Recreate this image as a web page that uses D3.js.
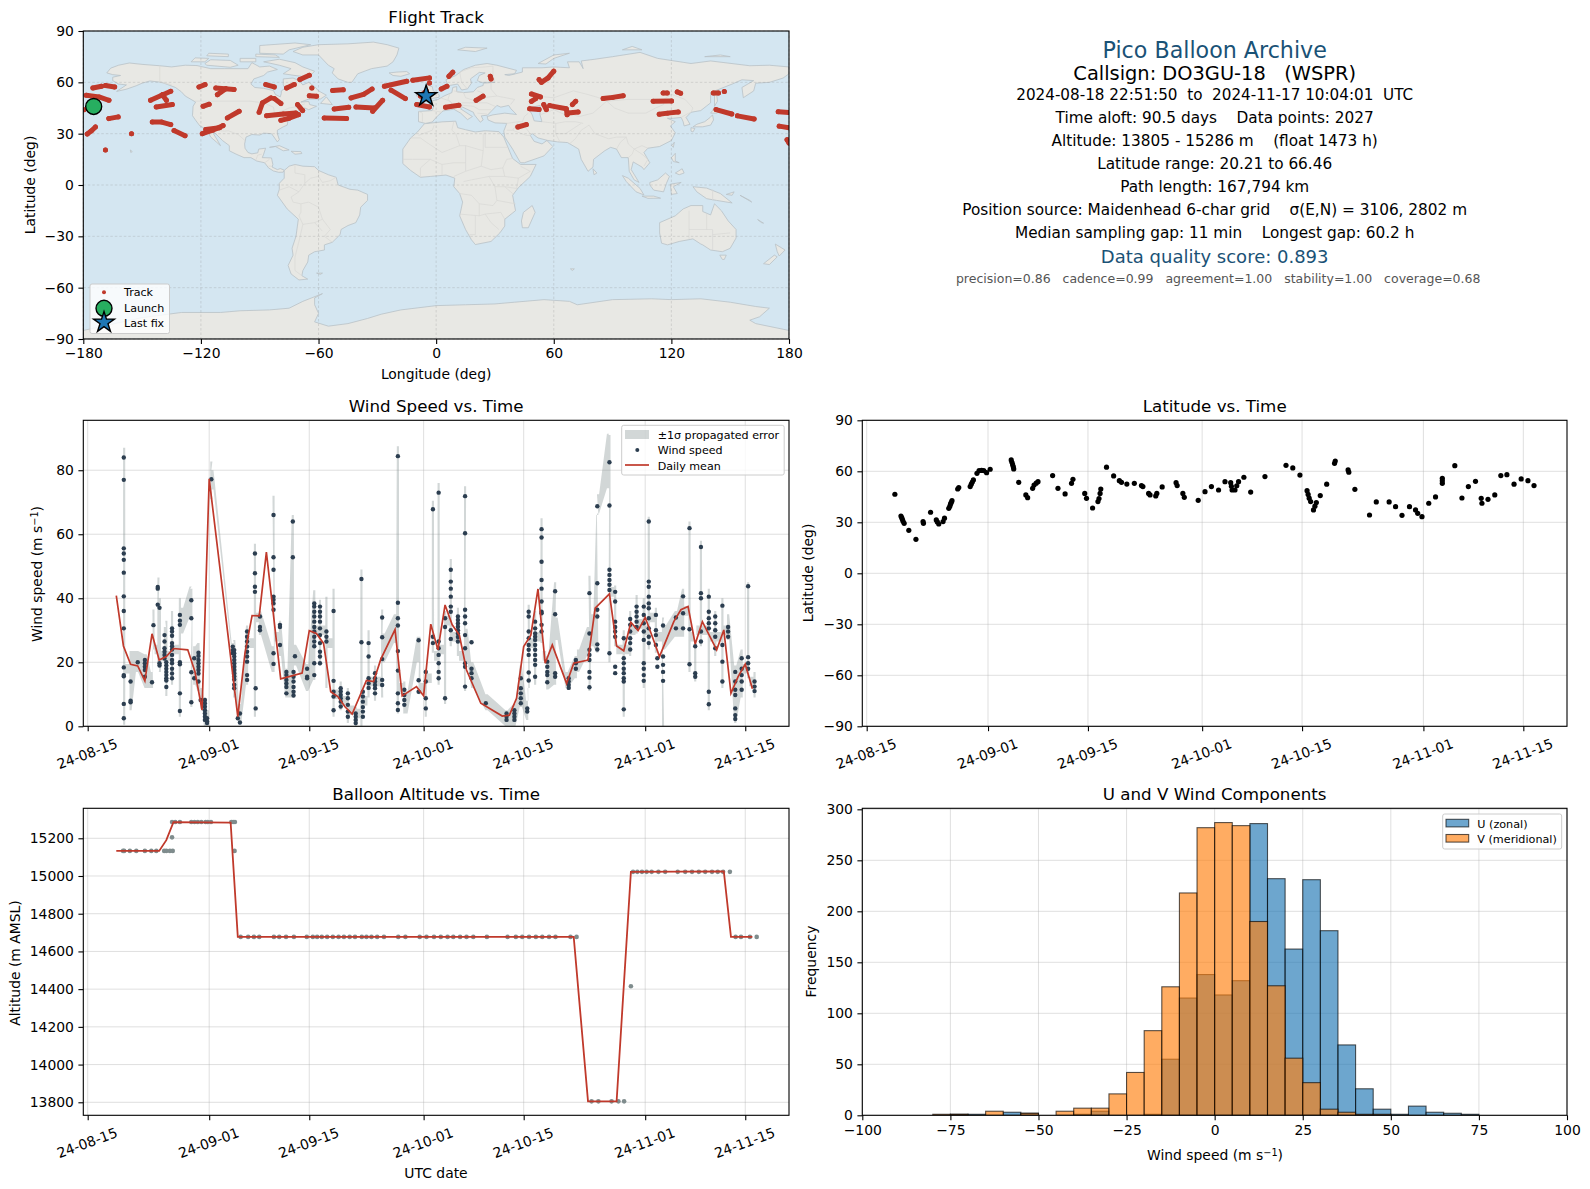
<!DOCTYPE html>
<html>
<head>
<meta charset="utf-8">
<title>Pico Balloon Archive</title>
<script src="https://cdn.jsdelivr.net/npm/d3@7"></script>
<style>
  body { margin: 0; background: #fff; }
  svg { display: block; }
  text { font-family: "DejaVu Sans", sans-serif; fill: #000; white-space: pre; }
</style>
</head>
<body>
<script>
// ---------- chart values ----------
// times are days after 2024-08-15

var dateTicks = ["2024-08-15", "2024-09-01", "2024-09-15", "2024-10-01", "2024-10-15", "2024-11-01", "2024-11-15"];

var lonTicks = [-180, -120, -60, 0, 60, 120, 180];
var latTicks = [-90, -60, -30, 0, 30, 60, 90];
var windTicks = [0, 20, 40, 60, 80];
var altTicks = [13800, 14000, 14200, 14400, 14600, 14800, 15000, 15200];
var histXTicks = [-100, -75, -50, -25, 0, 25, 50, 75, 100];
var histYTicks = [0, 50, 100, 150, 200, 250, 300];

var infoLines = [
  "Time aloft: 90.5 days    Data points: 2027",
  "Altitude: 13805 - 15286 m    (float 1473 h)",
  "Latitude range: 20.21 to 66.46",
  "Path length: 167,794 km",
  "Position source: Maidenhead 6-char grid    \u03c3(E,N) = 3106, 2802 m",
  "Median sampling gap: 11 min    Longest gap: 60.2 h"
];

// flight track, strokes of lon/lat fixes
var trackSegments = [
  [[-178.5,52.4],[-172,51.5],[-166.9,49.5]], [[-175.1,56.7],[-170.7,57.7]], [[-168.7,58.1],[-164,57.3]], [[-179.7,44]],
  [[-167,38.8],[-162.2,39.8]], [[-178,29.8],[-176,31.5],[-173.8,33.9]], [[-155.4,30]], [[-168.7,20.5]],
  [[-145.7,49.5],[-140,52.5],[-135.4,54.8]], [[-139.7,52.8],[-137.6,49.5]], [[-142.8,45.6],[-134.6,47]],
  [[-144.8,36.8],[-140,36.8],[-135.4,35.3]], [[-133.7,31.8],[-128.1,28.8]], [[-119.3,30],[-114,32],[-108.7,34.7]], [[-117.5,32.5],[-110.5,33.5]],
  [[-121,57.3],[-117.9,58.7]], [[-112.4,56.7],[-103.1,55.8]], [[-111.6,52.8],[-107.3,56.3]], [[-118.9,46],[-115.8,47.2]],
  [[-106.5,39.2],[-100.5,43.1]], [[-90.3,42.5],[-88.6,48],[-84.3,50.9]], [[-82.6,50.5],[-79.2,47.6]], [[-86.9,58.7],[-82.6,57.3]],
  [[-86.5,40.5],[-78,41.5],[-71.6,42.1]], [[-79.2,37.8],[-75,39],[-70.2,41.1]], [[-76.3,56.7],[-72.4,58.7]], [[-69.5,61.6],[-64.7,64.1]],
  [[-63.4,56.7]], [[-64.7,52.2],[-61,51.9]], [[-70.7,47],[-68.1,43.5]], [[-57.1,39.2],[-45.7,38.8]], [[-52,44.4],[-44.6,45.4]],
  [[-52.8,55.2],[-47.4,55.6]], [[-43.4,50.9],[-37,53],[-32.7,56.1]], [[-40.9,45.6],[-31.5,45]], [[-32.4,43.1],[-27.3,49.5]],
  [[-26.4,57.7],[-15,60.6]], [[-23,55.4],[-15.7,50.5]], [[-11.9,61.2],[-3.4,62.6]], [[-9.9,47],[-3.4,45.6]], [[-8,52],[-5,55]], [[-3.4,59.6]],
  [[2.6,56.1],[5.5,57.7]], [[6.5,63.5],[8.5,65.9]], [[27.6,63.5],[28,62]], [[4.8,45.4],[11.6,46.6]], [[20.4,49.5],[23.9,51.9]],
  [[41.7,33.9],[46,35.3]], [[47.7,44.6],[52.5,44.1]], [[54.9,47],[56.2,44.1]], [[48.6,53.2],[53.2,51.5]], [[48.6,48.9],[50.8,50.5]],
  [[52.5,61.6],[53.7,60],[57.1,62.6],[60,66.5]], [[57.9,46.4],[66.4,44.6],[66.8,41.1]], [[67.3,42.1],[72.4,42.7]], [[69.5,47],[71.2,48.9]],
  [[85.2,50.5],[90,51.2],[95.4,52.2]], [[110.7,48.9],[120.1,49.1]], [[115.8,53.8],[117.9,53.8]], [[123,54.4],[124.7,53.6]],
  [[113.8,41.3],[118,42],[123.5,42.7]], [[141.4,53.8],[144,53.8]], [[147,54.6]], [[142.8,44.1],[150.8,41.5]], [[153.7,40.4],[162.2,38.6]],
  [[174.5,42.8],[180,42.3]], [[175,34.4],[180,33.4]], [[179,26.5],[180,24.5]]
];
var launchFix = [-174.7, 45.9];
var lastFix = [-5.1, 52];

// land outlines, lon/lat
var landPolygons = [
  // North America
  [[-168,65.5],[-166,68.3],[-162,70],[-156.5,71.3],[-150,70.5],[-141,69.7],[-135,69],[-128,70],[-122,69.8],[-115,68],[-108,68],[-100,68],[-96,68],[-94,71.5],[-90,69],[-85,69.5],[-81,67.5],[-86,66],[-88,64],[-93,62],[-94.5,59],[-92.5,57],[-88,56.5],[-83,55.2],[-82,52.9],[-79.5,51.5],[-79,53.5],[-79,55],[-77,56.5],[-78,58.5],[-78,62],[-73,62.5],[-70,61],[-68,58.5],[-65,60],[-62,57.5],[-60,55],[-56,52.5],[-59,50.3],[-65,50.2],[-69,48.5],[-65,48.8],[-64.5,47],[-61,46],[-65,44],[-67,45],[-70,43.7],[-70.5,42],[-74,40.5],[-75.5,38],[-76,35],[-78,34],[-81,32],[-81,30],[-80,26.5],[-81,25.2],[-82.7,28],[-84,30],[-88,30.3],[-90,29.2],[-94,29.5],[-97,28],[-97.7,24],[-97.5,21.5],[-96,19],[-94,18.2],[-91,18.8],[-90.5,21],[-87,21.5],[-88,18],[-88.7,16],[-84,15.8],[-83.3,12],[-83.7,10.5],[-81,9],[-79.5,9.6],[-77.5,8.7],[-78,7.5],[-80.3,7.4],[-83,8.2],[-85.5,10],[-87.5,13],[-91.5,14],[-94.5,16],[-98,16],[-102,18],[-105.5,20],[-105.5,23],[-109,26],[-112.5,30],[-114.5,31.5],[-112,27],[-110,23],[-112,25],[-115,28],[-117,32.5],[-120.5,34.5],[-122.5,37.5],[-124.3,40.5],[-124,46],[-122.7,48.5],[-125,50],[-128,52],[-130,54.5],[-133,57],[-137,58.7],[-140,60],[-146,60.8],[-150,59.5],[-153,58],[-158,56],[-163,54.7],[-158,58.5],[-162,59],[-165,61],[-165,63],[-161,64],[-165,64.5]],
  // Greenland and the arctic islands
  [[-73,78],[-68,76],[-60,76],[-55,70],[-52,68],[-53,65.5],[-50,62],[-45,60],[-43,60],[-40,65],[-33,68],[-25,69.5],[-22,72],[-20,76],[-19,80],[-25,82],[-32,83.5],[-45,82.5],[-60,82],[-68,80.5]],
  [[-80,73.5],[-72,71.5],[-68,69],[-62,66.5],[-65,63],[-72,64],[-78,65],[-74,68],[-80,70],[-88,72]],
  [[-117,70],[-105,68.8],[-101,70],[-105,72.8],[-115,73.2],[-118,71]],
  [[-125,72],[-118,72],[-116,74],[-123,74.3]],
  [[-90,77],[-78,76.5],[-75,79],[-64,82],[-72,83],[-90,81.5]],
  [[-92,75],[-80,74.6],[-82,76],[-92,76.5]],
  [[-117,75.5],[-106,75],[-106,76.5],[-116,77]],
  [[-100,72],[-92,72],[-92,74],[-100,74]],
  [[-59,47.7],[-56,51.5],[-53,47]],
  [[-85,22],[-80,23],[-75,20.5],[-78,20],[-82,22.5]],
  [[-74,19.7],[-69,19.5],[-68.5,18.4],[-72,18]],
  [[-24,65.5],[-20,66],[-15,66.3],[-13.5,65],[-18,63.5],[-22,64]],
  [[-156,20.5],[-155,19.5],[-155.8,19]],
  [[-61,-51.5],[-58,-51.5],[-59,-52.2]],
  // South America
  [[-77.5,8.5],[-75,11],[-72,12],[-68,11],[-62,10.7],[-60,8.5],[-55,6],[-51,4.5],[-50,0],[-44,-2.5],[-40,-3],[-35,-5.5],[-35,-9],[-38.5,-13],[-39,-17.5],[-41,-22],[-45,-23.7],[-48.5,-26],[-49,-29],[-53,-33.5],[-57,-35],[-57,-38],[-62,-39],[-65,-41],[-65.5,-45],[-68,-50],[-68.5,-53],[-65.5,-55],[-70,-55.5],[-74,-52],[-75.5,-47],[-73,-41],[-73.5,-37],[-71.5,-30],[-70.3,-20],[-76,-14],[-81,-6],[-80,-2.5],[-80,1],[-77.5,4]],
  // Africa
  [[-6,35.8],[3,36.9],[10,37.3],[11,33.5],[15,32.3],[20,31],[25,31.7],[32,31.2],[34.5,28],[37,21],[39,15.5],[43,12],[51,12],[48,5],[42,-1.5],[39,-6],[40.5,-15],[35,-20],[35,-24],[32.5,-28],[28,-33],[20,-34.8],[18,-32],[15,-26],[12,-18],[13.5,-10],[12,-5],[9,-1],[9.5,4],[5,5.8],[-3,5],[-8,4.5],[-13,8.5],[-17,12.5],[-17,21],[-13,27.5],[-9.5,31]],
  [[49,-12],[50.5,-16],[47,-25],[44,-25],[43.5,-21],[44.5,-16]],
  // Eurasia
  [[-9,37],[-9,43],[-2,43.5],[-1.2,46],[-4.5,48.5],[1,50],[4,52],[8,54],[8.5,57],[10.5,57.5],[10.5,54.5],[14,54],[19,54.5],[21,57],[24,58.2],[24,59.5],[30,60],[23,60],[21,61],[22,64],[25,65.5],[22,65.8],[17.5,62],[18,59.5],[16,56.2],[13,55.5],[11,59],[6,58],[5,61.5],[10,64],[14,67.5],[20,70],[26,71],[31,70],[41,67],[40,65],[35,64.5],[37,64],[44,66],[44,68.5],[54,68.5],[60,69],[68,68.5],[67,72],[73,72],[75,68],[74,72.5],[81,73.5],[90,75],[104,77.5],[113,74],[130,71],[140,72.5],[160,69.7],[170,70],[180,69],[180,65],[177,62.5],[170,60],[163,59.5],[162,55],[156.7,51],[156,57],[162,61],[156,61.5],[151,59],[140,54],[140,48],[135,43.5],[130,42.5],[127.5,39.5],[129.5,35.5],[126.5,34.5],[126,37],[125,39.5],[121,39],[118,39],[122,37],[119.5,34.5],[122,30.5],[120,26],[114,22.5],[108,21.5],[106,19],[109,13],[106,9],[105,10.5],[100.5,13.5],[99.5,9],[103.5,1.5],[101,3],[98.5,8],[98,16],[94.5,16],[92,21],[89,22],[86,20],[80.3,15],[80,10.5],[77.5,8],[74,15],[72.7,21],[67,24.8],[62,25.2],[57,26],[52,27.5],[49,30],[48,29],[50,25.5],[54,24],[56.5,26],[59.5,22.5],[55,17],[45,13],[43,13],[39,21],[35,28],[34.5,31.5],[36,36],[30,36.3],[26.5,38],[26,40],[29,41],[35,42],[41,41.2],[38,44.7],[37,46.5],[33,45.5],[31,46.5],[28,43],[26.2,40.8],[23,40.4],[24,38],[22.5,36.7],[19.5,41],[19,42.5],[13.5,45.5],[12.5,44.5],[18.5,40],[16,38.2],[12.5,42],[9,44.3],[3.5,43.3],[0,39.5],[-2,36.8],[-5.5,36]],
  [[-5.5,50],[1.5,51.3],[1.5,52.8],[-1.5,55],[-2,57.5],[-5,58.5],[-5.5,56],[-3,54],[-5,52],[-3,51.4]],
  [[-10,52],[-6,52],[-5.7,54.7],[-8,55.2],[-10,54]],
  [[52,71],[56,70.7],[60,74],[68,77],[60,76]],
  [[11,79],[20,78],[26,80],[15,80.5]],
  [[95,79],[105,79],[100,81]],
  [[137,75],[150,75],[145,76]],
  // East Asia and the islands
  [[131,34],[136,34],[140,35],[141.5,38],[141,41],[139.8,39.5],[137,37],[133,35.5]],
  [[130,33.5],[132,33],[131,31],[130,31.5]],
  [[140,42],[143,42],[145.5,43.5],[142,45.5],[141,43.5]],
  [[142,46],[143.5,49],[143,54],[142,52]],
  [[120.2,23],[121.5,25],[121,22]],
  [[120,16],[122,18.5],[122,14],[124,13],[121,13.7]],
  [[122,7],[125.5,9.5],[126.5,7],[124,6]],
  [[109,1.5],[113,3],[117,7],[119,5],[117.5,1],[116,-4],[111,-3],[109,0]],
  [[95,5.5],[98,4],[104,-2],[106,-5.8],[102,-4],[97,2]],
  [[105,-6.5],[111,-6.5],[114.5,-7.7],[108,-7.8]],
  [[119.5,0.5],[125,1.5],[121,-1],[123,-5],[120,-5.5]],
  [[131,-1],[138,-1.8],[145,-5],[151,-10.5],[143,-9],[138,-8],[133,-4]],
  [[148,-5.5],[152,-4],[151,-6]],
  [[155,-6],[160,-9],[161,-10]],
  [[164,-20.2],[167,-22.3],[166,-22]],
  [[80,9.5],[82,7],[80.5,6]],
  // Australia, New Zealand
  [[114,-22],[122,-18],[126,-14],[130,-12],[136,-12],[136,-15.5],[140,-17.5],[142,-11],[145.5,-15],[149,-21],[153,-26],[153,-31],[150,-37],[146,-39],[140,-38],[136,-35],[135,-34.5],[131,-31.5],[124,-33],[118,-35],[115,-34],[114,-28]],
  [[144.7,-41],[148,-41],[147,-43.5],[146,-43.5]],
  [[173,-34.5],[178,-38],[175,-41.5],[174,-39]],
  [[172.5,-41],[174,-42],[170,-46.5],[167,-46]],
  [[68.5,-49],[70.5,-49],[69.5,-50]],
  // Antarctica
  [[-180,-85],[-160,-80],[-150,-77.5],[-130,-74.5],[-110,-74.5],[-100,-73.5],[-85,-73],[-75,-72],[-68,-68],[-58,-63.5],[-62,-66],[-62,-70],[-60,-75],[-62,-80],[-55,-82.5],[-45,-81],[-35,-78],[-28,-75.5],[-18,-73],[0,-70.5],[15,-70],[30,-69.5],[40,-68.5],[55,-67],[68,-68],[72,-70],[78,-69],[90,-67],[110,-66.5],[120,-67],[135,-66.5],[150,-68.5],[163,-71],[170,-72],[165,-77],[160,-79],[163,-81],[180,-85],[180,-90],[-180,-90]]
];
var waterPolygons = [
  [[47,45],[53,46.5],[53,41],[54,37],[50,37.5],[49,41]]
];
var borderLines = [
  [[-123,49],[-95,49],[-88,48],[-83,45.5],[-82.5,42],[-79,43],[-75,45],[-70,46],[-67,47.5]],
  [[-141,69.7],[-141,60],[-135,58.7]], [[-117,32.5],[-108,31.5],[-106,31.7],[-101,29.5],[-97.5,26]],
  [[-92,14.5],[-91,17.5],[-89,18]], [[-87.5,13],[-85,15]], [[-85.5,11],[-84,11]],
  [[-72,12],[-72,7],[-67,6],[-67,1],[-70,-4],[-74,-7],[-73,-10],[-69,-11],[-69,-16],[-70,-18]],
  [[-60,8.5],[-60,5],[-64,4],[-67,1]], [[-51,4.5],[-54,2.5],[-58,1.5],[-60,5]], [[-80,-3],[-75,-1],[-70,-4]],
  [[-69,-11],[-65,-10],[-60,-13],[-58,-20],[-54,-26],[-57,-30],[-53,-33.5]], [[-70,-18],[-68,-23],[-70,-33],[-72,-42],[-72,-50],[-68.5,-53]],
  [[-68,-23],[-62,-22],[-58,-20]], [[-58,-27],[-62,-22]],
  [[-9,43],[-7,42],[-7,37]], [[-2,43.5],[3,42.5]], [[2,51],[6,49.5],[8,48],[7,44]], [[7,53.5],[6,50],[8,48]], [[9,55],[14,54]], [[14,54],[15,51],[19,49.5],[22.5,49],[24,51],[23.5,54],[21,55]],
  [[13,48],[17,48],[22,48],[26,48],[30,46]], [[12,47],[14,46.5],[19,46],[22,44],[28,44]], [[21,42],[26,41.5]], [[28,60],[28,56],[31,52],[40,50],[38,47]], [[24,51],[31,52]],
  [[12,66],[18,68.5],[25,69],[29,69.5]], [[30,60],[29,64],[29,69.5]], [[16,56],[13,60],[12,66]],
  [[47,42],[45,40],[44,37],[46,33],[48,30]], [[36,36],[42,37],[44,37]], [[39,32],[46,29],[48,29]], [[36,32],[39,32],[42,37]], [[47,45],[50,52],[60,51],[70,55],[77,53],[83,51],[87,49]],
  [[53,41],[60,44],[66,41],[70,41],[73,40],[80,42],[87,49]], [[54,37],[61,36],[61,30],[63,25.5]], [[61,36],[66,37],[71,37],[75,36]], [[61,30],[66,30],[70,33],[74,36]],
  [[68,24],[71,27],[74,32],[78,35],[81,30],[88,27],[92,28],[97,28]], [[97,28],[98,24],[101,21],[105,23],[108,21.5]], [[92,21],[94,25],[97,28]], [[101,21],[100,18],[98,16]], [[101,21],[105,18],[108,15],[106,11]], [[87,49],[98,50],[107,50],[116,50],[120,53],[127,50],[131,45],[130,42.5]], [[98,42],[107,42],[112,45],[116,47],[116,50]], [[87,49],[91,45],[98,42]],
  [[125,39.5],[128,41.5],[130,42.5]], [[-9,29],[-2,32],[-1,35]], [[-13,27.5],[-8,27.5],[-5,25],[3,19],[12,23],[15,23],[24,20],[24,30]], [[25,31.7],[25,22],[37,22]], [[9,37],[8,32],[10,30],[12,23]],
  [[15,23],[15,13],[9,13],[3,12],[-3,15],[-12,15],[-17,15]], [[24,20],[23,11],[28,9],[34,10],[36,15],[39,15.5]], [[34,10],[35,5],[42,4],[48,8],[43,11]], [[9,5],[15,8],[15,13]], [[15,8],[23,11]], [[-8,4.5],[-8,10],[-3,15]], [[3,6],[3,12]],
  [[14,2],[18,3],[27,5],[35,5]], [[12,-5],[18,-6],[22,-11],[29,-12],[31,-9],[30,-1],[27,5]], [[35,-1],[41,-2],[42,4]], [[30,-1],[35,-1],[39,-5]], [[31,-9],[40.5,-11]], [[12,-17],[22,-18],[25,-17],[33,-16],[35,-20]], [[20,-18],[20,-29],[17,-29]], [[25,-17],[28,-22],[32,-26]], [[22,-11],[22,-18]],
  [[141,-2.5],[141,-9]], [[141,-38],[141,-26],[129,-26]], [[129,-15],[129,-31.5]], [[138,-17],[138,-26]], [[150,-28],[141,-29]]
];

// wind speed, one row per sounding day
var windDays = [5.05, 6, 7, 8, 9, 9.2, 9.8, 10.05, 10.75, 11, 11.8, 12.9, 14.5, 14.9, 15.5, 15.8, 16.4, 16.7, 17.3, 20.3, 20.5, 21, 21.3, 22.3, 23.4, 23.5, 24.1, 26, 26.9, 27.8, 28.7, 28.8, 29, 30.7, 31.7, 32.5, 33.4, 34.4, 35.4, 36.4, 37.5, 38.3, 38.5, 39.3, 40.2, 41.2, 43.4, 44.3, 46.3, 47.3,
  48.3, 49.1, 50, 50.8, 51.8, 52.8, 53.7, 55.7, 58.6, 59.7, 60.6, 61.5, 61.7, 62.6, 63.5, 64.3, 65.4, 67.3, 68.3, 70.2, 71.3, 73, 73.8, 75, 75.9, 76.8, 77.8, 78.5, 79.5, 79.7, 80.5, 82.3, 83.3, 84.2, 85, 85.8, 86.9, 87.8, 88.8, 89.6, 90.6, 91.5, 92.4, 93.3];
var windSpeeds = [
  [84,77,55.6,54,52,48,40.6,36,30.6,18.4,16,15.6,7,2.5], [14,8,7.5], [20], [20.7,19.7,18.6,17.6,15.5], [13.75], [31.6],
  [43.5,43,38], [37,19.7,19], [28.5,26.5,24.4,23.3,22.3,21.2], [20,19,18,17,16,15,14.3,12.3], [30.6,29.6,28.3,26,25,24,22.3,20.7,19.7,18,16.5,15],
  [34.8,33,31.7,20,19.4,10.3,4.8], [39.4,33.75,16.9,7.5], [21.25,15], [23,22,20.7,19.7,18.6,17.6,16.5,14], [8.2], [8.2,7.2,6.1,5,4,3,2], [2.5,1.5,1], [77.2],
  [24.9,23.8,22.8], [23.8,22.8,21.8,20.7,19.7,18.6,17.6,16.6,15.6,14.6,13,11.9], [2.5], [4,1.2], [29.6,28,26.5,24.9,23.3,21.8,20.2,16,14.5], [54,47.8,43.6,42], [11.9,5.6], [34.3,31,30],
  [66,52.8,48.9,40.5,39.5,38.4,36.4,22.8,19.5], [31.7,31,25.4], [17,16,14.5,13.4,12.3,10.3], [64,52.8], [17,15.5,14,12.3,10.8,9.6], [21.9], [18,15.5,15],
  [38.4,37.4,35.8,34.3,32.7,31,29.6,28,26.5,25,19.7,16], [37.4,35.8,34.3,32.7,30.6,28.5,26,23.3,21.8,19.7], [29.6,28,26.5], [36,14.2,10.8,9.3,5],
  [11.9,10.9,9.8,8.8,7.7,6.2], [10.3,8.75,6.7,4.6,3], [4,3,2,1], [46,26.25], [10.8,9.3,7.7,6,4.6,3], [26,21.8,15,13.4,12], [16.6,15,14,12.9,11.9,10.3], [34,27.8,21,14.5,12.9],
  [84.4,38.6,33.75,31.5,23.5,17.4,10.3,7.2,5.1], [11.4,9.8,8.2,6.7], [26.9,14.4,10.8], [17,14,8.75,5.6],
  [67.8,28,26], [73,26.5,24.4,22.3,19.7,17,15], [33.75,31,8.75], [48.9,45.2,43,40.5,37.4,35.8,30,27.3], [34.3,33.2,32.1,31.1,30,29,27.9,26.5], [71.9,60.3,36.4,34.3,32.2,28.5,24.4,19.7,18.6,12.4], [26.25,18,16.6,15], [7.2],
  [4,3,2], [5,4,3,2], [15,11.9,10.3,8.75,7.2], [5.6,4.6], [35.8,34.3,29.6,27.5,25.4,23.9,22.3,16.8,14.3], [32.7,30.6,29,28,27,25.4,23.9,22.3,20.7,19.2,15.5],
  [61.6,59,51.4,45.7,43,39,35.8,35.3,31.7,29.6], [20.2,18.6,17,16,13.75], [42.2,35,16.6,15.5], [15,14,12.9,12], [20.7,19.7,18], [41.6,29,23.9,22.3,20.7,17,15.2,12.2], [68.75,44.7,36.4,34.3,25.6,24],
  [82.5,69,48.9,47.3,45.7,44.2,42.6,22.8], [42,39,32.7,31,29.6,28,18.6,16.6], [27.5,21.25,19.7,18,16.6,15,14,5.3], [33.5,31.7,29.6,27.5,26,24], [37.4,35.8,34.3,32.7,31], [37.4,34.8,32.2,29.6,27,19.7,18,16,14.2],
  [64,45.2,43.6,40.5,38.4,36.9,33.75,30.6,28,26], [34.8,30,28.5,25.4], [21.25,18.6], [31.5,21.8,19.2,17,14.2], [34,30.6], [40.6,35.3,30.6], [61.9,30.3,19.4], [25,16.6,15.5], [56,41.6,40,29.6,26.5],
  [40.5,35.8,33.75,32.2,30.6,10.8,6.9], [34.3,32.2,30,28,24.4], [37.7,25.4,20.2,14], [31,29.6,28], [17,14,11.4,9.8,5.6,3.5,2.3], [21.25,18,16,14,11.4], [43.75,21.6,19.7,18], [14,12.4,11]
];

var dailyDays = [4, 5, 6, 7, 8, 9, 10, 11, 12, 14, 15, 16, 17, 21, 22, 23, 24, 25, 27, 30, 31, 32, 33, 34, 35, 36, 37, 39, 40, 41, 43, 44, 46, 47, 48, 49, 50, 51, 52, 53, 55, 58, 59, 60, 61, 62, 63, 64, 65, 67, 68, 70, 71, 73, 74, 75, 76, 77, 78, 79, 80, 82, 83, 84, 85, 86, 88, 89, 90, 91, 92, 93];
var dailyMeans = [40.8, 25.1, 19.4, 18.85, 14.2, 28.9, 20.7, 21.8, 24.3, 23.9, 17.1, 5.1, 77.3, 3, 22.8, 34.6, 34.5, 54.4, 14.8, 16.6, 29.9, 29, 25.9, 10.8, 9.3, 6.1, 3.85, 14.3, 14, 20.9, 30.2, 9.5, 12.4, 9.5, 31.9, 23.9, 37.9, 31.7, 28.5, 17.6, 7.2, 3.2, 3.5, 8.75, 24.9, 28.5, 42.9, 19.7, 25.4, 13.4, 19.7, 20.7, 36.9, 41.4, 25.1, 23.6, 32.5, 29.9, 34, 28, 21.8, 32.7, 36.4, 37.4, 25.7, 32.7, 23.9, 30.1, 10.3, 15.5, 19.4, 11.7];

// propagated error band: stripes with a low and high edge, bandJoin is the level of the thin link to the next stripe
var bandDays = [5.1, 6, 6.9, 8.1, 9, 9.2, 9.9, 10.1, 10.8, 11, 11.8, 12.9, 13.2, 14.4, 14.5, 14.9, 15.5, 15.9, 16.4, 16.8, 17.3, 17.45, 20.3, 20.5, 21.3, 22.3, 23.4, 24.1, 25.9, 26, 26.9, 27.8, 28.7, 29, 30.7, 31.7, 32.5, 33.4, 34.4, 35.4, 36.4, 37.5, 38.3, 39.3, 40.2, 41.2, 41.4, 43, 43.4, 44.3, 44.6, 46.2, 46.4, 47.3, 48.3, 49.1, 50, 50.8, 51.8, 52.8, 53, 53.8, 55.8, 58.6, 59.7, 60.6, 61.5, 61.7, 62.6, 63.5, 64.3, 65.4, 65.6, 67, 68.3, 68.6, 70, 70.2, 70.6, 71.3, 71.4, 72.8, 73, 73.8, 75, 75.9, 76.8, 77.8, 78.5, 79.5, 80.5, 80.6, 82.3, 83.3, 84.2, 85, 85.8, 86.9, 87.8, 88.8, 89.6, 90.6, 91.5, 92.4, 93.3];
var bandLow = [0.5, 5, 17, 12, 12, 24, 19, 17, 20, 9.5, 13, 3, 29, 34, 6, 13, 11, 5.5, 0, 0, 71, 74, 23, 9, 0.5, 13, 3, 28.5, 17, 17, 22, 9, 9, 19, 11, 14.5, 19, 12, 3, 5, 1, 0, 0, 9, 8, 9, 20, 26, 4, 4, 4, 20, 10, 3, 23, 13, 7, 25, 22, 11, 20, 12, 5, 0, 0, 6, 2, 12, 13, 26, 11.5, 13, 27, 12, 15, 17, 22, 11, 25, 23, 66.5, 74.4, 20, 25, 3, 22, 29, 12, 24, 23, 0, 24, 28, 28, 17, 14, 25, 5, 22, 12, 27, 1, 9, 15, 9];
var bandHigh = [87, 23.5, 23.5, 22.5, 17, 36.5, 46.5, 40, 31, 33, 36, 40, 37, 43.7, 43, 25, 26, 12, 9, 5, 82.7, 80, 26, 27, 7, 31.5, 57, 36, 25, 72, 33, 18, 66, 25.5, 19.5, 42.5, 39.5, 40.5, 43, 14, 12, 6, 49, 30, 19, 36.5, 29, 35, 87.5, 14, 11, 28, 28, 18, 70.5, 76, 36, 52.3, 37, 75, 30.5, 20, 10, 5, 7, 19, 8, 38, 36, 65, 22, 45, 34, 17, 22, 24, 31, 47, 35, 66, 72.5, 91.4, 91, 44, 30, 36, 41, 40, 65.5, 37, 34, 31, 36, 43, 64, 27, 58, 43, 36, 40, 35, 19, 24, 45, 17];
var bandJoin = [18, null, null, null, null, 24, null, 22, null, 22, 24, null, null, null, 20, null, null, null, null, null, null, null, null, null, null, 26, 34, null, null, 28, null, null, 22, null, null, 30, 30, 26, 10, 8, 5, 4, 8, 14, 14, null, null, null, 12, null, null, null, 12, 15, 22, 24, 33, 28, 22, null, null, null, null, null, null, null, null, 26, 28, 22, null, null, null, null, null, null, null, null, null, null, null, null, 42, 24, 24, 30, 32, 30, 34, 28, null, null, null, 36, 28, 30, 30, 28, 28, 30, null, null, 18, 14, null];

// latitude vs. time
var latDays = [3.95, 4.8, 4.9, 5, 5.1, 5.25, 5.9, 6.9, 7.9, 7.95, 8.95, 9.75, 9.9, 10.1, 10.7, 10.9, 11.5, 11.65, 11.75, 11.85, 11.95, 12.75, 12.9, 14.5, 14.65, 14.8, 14.95, 15.45, 15.75, 16.1, 16.4, 16.8, 17.3, 20.25, 20.35, 20.45, 20.55, 20.6, 21.3, 22.3, 22.55, 23.25, 23.45, 23.75, 24, 26.05, 26.8, 27.8, 28.7, 28.9, 30.55, 30.8, 31.65, 32.4, 32.55, 32.7, 32.8, 33.6, 34.6, 35.4, 35.7, 36.45, 37.5, 38.5, 38.7, 39.5, 39.7, 40.5, 40.65, 41.4, 43.35, 43.5, 44.3, 44.5, 46.45, 47.4, 48.3, 49.3, 50.2, 51, 51.1, 51.2, 51.6, 51.85, 52.1, 52.85, 53.8, 55.8, 58.75, 59.7, 60.7, 61.7, 61.85, 62, 62.2, 62.6, 62.8, 63, 63.55, 64.45, 65.55, 65.65, 67.45, 67.55, 68.4, 70.45, 71.4, 73.2, 74.1, 75, 76.05, 76.9, 77.2, 77.8, 78.75, 79.7, 80.65, 80.65, 80.65, 82.4, 83.4, 84.3, 85.3, 86.1, 86.2, 87.05, 88, 88.85, 89.7, 90.7, 91.7, 92.65, 93.5];
var latValues = [46.5, 33.7, 32.8, 31.8, 30.6, 29.4, 25.3, 20, 30.4, 29.4, 35.9, 31.4, 30.2, 29, 30.4, 32.4, 38.2, 39.5, 40.8, 41.7, 42.7, 49.6, 50.4, 51, 52.4, 53.7, 54.9, 58.8, 60.4, 60.5, 60.4, 59.2, 61.2, 66.7, 65.3, 63.9, 62.6, 61.4, 53.5, 46.1, 44.5, 50, 51.9, 53, 53.9, 57.5, 50, 46.7, 52.9, 55.3, 47, 44.1, 38.4, 42.2, 44, 47, 49.6, 62.4, 57.3, 54.5, 53.5, 52.5, 52.9, 51.6, 51, 47, 46.1, 45.5, 47, 50.8, 53.3, 51.6, 47, 44.7, 42.9, 48, 51, 49, 53.9, 53.3, 51.2, 49, 49, 51.5, 53.9, 56.5, 47.8, 56.9, 63.5, 62, 57.8, 48.6, 46.4, 44.2, 42.2, 37.3, 39.5, 41.6, 45.7, 52.4, 64.7, 66, 60.8, 59.5, 49.4, 34.3, 42, 42, 39.2, 34.1, 39.2, 37.3, 35.3, 33.3, 41.2, 44.9, 52.9, 54.4, 55.9, 63.3, 44.3, 51, 54.1, 44.1, 41.2, 43.5, 46.1, 57.5, 58, 52.4, 55.5, 54.5, 51.6];

// altitude vs. time
var altDays = [4.95, 5.1, 5.9, 6.8, 8, 8.9, 9.6, 10.7, 11, 11.5, 11.9, 11.8, 20.55, 76, 11.8, 12.25, 12.9, 14.5, 14.95, 15.4, 15.9, 16.5, 16.8, 17.25, 20.1, 20.35, 20.6,
  21.4, 22.45, 23.25, 24, 26.05, 26.8, 27.75, 28.85, 30.65, 31.5, 32.1, 32.75, 33.5, 34.3, 35.1, 35.85, 36.65, 37.4, 38.35, 39, 39.7, 40.5, 41.45, 43.45, 44.45, 46.45, 47.4, 48.45, 49.4, 50.35, 51.15, 52.1, 53, 53.95, 55.85, 58.75, 59.9, 60.8, 61.75, 62.7, 63.6, 64.55, 65.45, 67.55, 68.4, 90.65, 91.4, 92.65, 93.6,
  70.5, 71.45, 73.3, 74.25, 75.05, 76.3, 76.9, 77.55, 78.2, 78.9, 79.85, 80.8, 82.55, 83.6, 84.55, 85.5, 86.4, 87.35, 88.15, 88.9, 89.85];
var altValues = [15133, 15133, 15133, 15133, 15133, 15133, 15133, 15133, 15133, 15133, 15133, 15205, 15133, 14415, 15286, 15286, 15286, 15286, 15286, 15286, 15286, 15286, 15286, 15286, 15286, 15286, 15286,
  14677, 14677, 14677, 14677, 14677, 14677, 14677, 14677, 14677, 14677, 14677, 14677, 14677, 14677, 14677, 14677, 14677, 14677, 14677, 14677, 14677, 14677, 14677, 14677, 14677, 14677, 14677, 14677, 14677, 14677, 14677, 14677, 14677, 14677, 14677, 14677, 14677, 14677, 14677, 14677, 14677, 14677, 14677, 14677, 14677, 14677, 14677, 14677, 14677,
  13805, 13805, 13805, 13805, 13805, 15022, 15022, 15022, 15022, 15022, 15022, 15022, 15022, 15022, 15022, 15022, 15022, 15022, 15022, 15022, 15022];
var altMeanDays = [4, 10, 11, 12, 20, 21, 68, 70, 74, 76, 89, 90, 93];
var altMeans = [15133, 15133, 15190, 15286, 15283, 14677, 14677, 13805, 13805, 15022, 15024, 14677, 14677];

// wind component histogram, 5 m/s bins
var histBins = [-100, -95, -90, -85, -80, -75, -70, -65, -60, -55, -50, -45, -40, -35, -30, -25, -20, -15, -10, -5, 0, 5, 10, 15, 20, 25, 30, 35, 40, 45, 50, 55, 60, 65, 70, 75, 80, 85, 90, 95];
var histU = [0, 0, 0, 0, 0, 1, 1, 0, 3, 2, 0, 0, 1, 4, 0, 0, 1, 55, 115, 138, 118, 132, 286, 232, 163, 231, 181, 69, 26, 6, 1, 9, 3, 2, 1, 0, 0, 0, 0, 0];
var histV = [0, 0, 0, 0, 1, 1, 0, 4, 0, 2, 0, 4, 7, 7, 21, 42, 83, 126, 218, 282, 287, 284, 190, 127, 56, 32, 6, 3, 1, 1, 0, 0, 0, 0, 0, 0, 0, 0, 0, 0];

// ---------- layout ----------
var width = 1590, height = 1189;
var tick_size = 13.9, label_size = 13.9, title_size = 16.7, legend_size = 11.1;
var red = "#c0392b", navy = "#2c3e50", grey = "#7f8c8d", titleBlue = "#1a5276";

var svg = d3.select("body").append("svg").attr("width", width).attr("height", height);

function toDate(day) {
    return new Date(Date.UTC(2024, 7, 15) + day * 864e5);
}

var tickDates = dateTicks.map(function(d) { return new Date(d + "T00:00:00Z"); });

function timeScale(panel) {
    return d3.scaleUtc().domain([toDate(-0.615), toDate(98.12)]).range([panel.left, panel.right]);
}

// Makes the group of one panel with gridlines, axes, frame and clip
function makePanel(panel, xScale, yScale, xTicks, yTicks, xFormat, title, dashed) {
    var g = svg.append("g");
    var id = "clip" + Math.round(panel.left) + "_" + Math.round(panel.top);
    g.append("clipPath").attr("id", id).append("rect")
        .attr("x", panel.left).attr("y", panel.top)
        .attr("width", panel.right - panel.left).attr("height", panel.bottom - panel.top);

    panel.under = g.append("g").attr("clip-path", "url(#" + id + ")");
    var grid = g.append("g");
    xTicks.forEach(function(t) {
        grid.append("line").attr("x1", xScale(t)).attr("x2", xScale(t)).attr("y1", panel.top).attr("y2", panel.bottom);
    });
    yTicks.forEach(function(t) {
        grid.append("line").attr("y1", yScale(t)).attr("y2", yScale(t)).attr("x1", panel.left).attr("x2", panel.right);
    });
    grid.selectAll("line").attr("stroke", dashed ? "#8a8a8a" : "#b0b0b0")
        .attr("stroke-opacity", dashed ? 0.25 : 0.4).attr("stroke-width", 1)
        .attr("stroke-dasharray", dashed ? "2.5 2" : null);

    panel.marks = g.append("g").attr("clip-path", "url(#" + id + ")");

    var xAxis = d3.axisBottom(xScale).tickValues(xTicks).tickSize(4.9).tickPadding(4.5).tickFormat(xFormat);
    var yAxis = d3.axisLeft(yScale).tickValues(yTicks).tickSize(4.9).tickPadding(4.5).tickFormat(d3.format("d"));
    panel.xAxisG = g.append("g").attr("transform", "translate(0," + panel.bottom + ")").call(xAxis);
    panel.yAxisG = g.append("g").attr("transform", "translate(" + panel.left + ",0)").call(yAxis);
    g.selectAll(".domain").remove();
    g.selectAll(".tick line").attr("stroke", "#000").attr("stroke-width", 1.1);
    g.selectAll(".tick text").attr("font-size", tick_size).attr("font-family", null);

    g.append("rect").attr("x", panel.left).attr("y", panel.top)
        .attr("width", panel.right - panel.left).attr("height", panel.bottom - panel.top)
        .attr("fill", "none").attr("stroke", "#000").attr("stroke-width", 1.1);

    g.append("text").attr("x", (panel.left + panel.right) / 2).attr("y", panel.top - 8)
        .attr("text-anchor", "middle").attr("font-size", title_size).text(title);
    panel.frame = g;
    return g;
}

// Date labels are turned by 20 degrees round their own middle
function turnDateLabels(panel) {
    panel.xAxisG.selectAll("text")
        .attr("y", 0).attr("dy", "0.35em")
        .attr("transform", "translate(-1,27.5) rotate(-20)");
}

function yLabel(x, y, build) {
    var t = svg.append("text").attr("transform", "translate(" + x + "," + y + ") rotate(-90)")
        .attr("text-anchor", "middle").attr("font-size", label_size);
    build(t);
}

function windLabel(t) {
    t.append("tspan").text("Wind speed (m s");
    t.append("tspan").attr("dy", "-0.42em").attr("font-size", label_size * 0.7).text("\u22121");
    t.append("tspan").attr("dy", "0.3em").text(")");
}

// ---------- flight track ----------
var mapPanel = {left: 83.3, right: 789, top: 31, bottom: 339};
var lonScale = d3.scaleLinear().domain([-180, 180]).range([mapPanel.left, mapPanel.right]);
var latMapScale = d3.scaleLinear().domain([-90, 90]).range([mapPanel.bottom, mapPanel.top]);

makePanel(mapPanel, lonScale, latMapScale, lonTicks, latTicks, d3.format("d"), "Flight Track", true);

var lonLatLine = d3.line().x(function(d) { return lonScale(d[0]); }).y(function(d) { return latMapScale(d[1]); });

mapPanel.under.append("rect").attr("x", mapPanel.left).attr("y", mapPanel.top)
    .attr("width", mapPanel.right - mapPanel.left).attr("height", mapPanel.bottom - mapPanel.top)
    .attr("fill", "#d4e6f1");
mapPanel.under.selectAll(".land").data(landPolygons).enter().append("path")
    .attr("d", function(d) { return lonLatLine(d) + "Z"; })
    .attr("fill", "#e8e8e4").attr("stroke", "#b9c2c6").attr("stroke-width", 0.8);
mapPanel.under.selectAll(".water").data(waterPolygons).enter().append("path")
    .attr("d", function(d) { return lonLatLine(d) + "Z"; })
    .attr("fill", "#d4e6f1").attr("stroke", "#b9c2c6").attr("stroke-width", 0.8);
mapPanel.under.selectAll(".border").data(borderLines).enter().append("path")
    .attr("d", lonLatLine).attr("fill", "none").attr("stroke", "#d9d9d6").attr("stroke-width", 0.7);

mapPanel.marks.selectAll(".track").data(trackSegments).enter().append("path")
    .attr("d", lonLatLine).attr("fill", "none").attr("stroke", red)
    .attr("stroke-width", 5).attr("stroke-linecap", "round").attr("stroke-linejoin", "round");
mapPanel.marks.selectAll(".fix").data(trackSegments.flat()).enter().append("circle")
    .attr("cx", function(d) { return lonScale(d[0]); }).attr("cy", function(d) { return latMapScale(d[1]); })
    .attr("r", 2.5).attr("fill", red);

mapPanel.marks.append("circle").attr("cx", lonScale(launchFix[0])).attr("cy", latMapScale(launchFix[1]))
    .attr("r", 8).attr("fill", "#27ae60").attr("stroke", "#000").attr("stroke-width", 1.4);
var starPath = d3.symbol().type(d3.symbolStar).size(136);
svg.append("path").attr("d", starPath())
    .attr("transform", "translate(" + lonScale(lastFix[0]) + "," + latMapScale(lastFix[1]) + ")")
    .attr("fill", "#1f77b4").attr("stroke", "#000").attr("stroke-width", 1.4);

svg.append("text").attr("x", (mapPanel.left + mapPanel.right) / 2).attr("y", 378.5)
    .attr("text-anchor", "middle").attr("font-size", label_size).text("Longitude (deg)");
yLabel(34.5, 185, function(t) { t.text("Latitude (deg)"); });

// map legend
var mapLegend = svg.append("g");
mapLegend.append("rect").attr("x", 90).attr("y", 284).attr("width", 79.5).attr("height", 49.5).attr("rx", 2)
    .attr("fill", "#fff").attr("fill-opacity", 0.8).attr("stroke", "#ccc").attr("stroke-width", 1);
mapLegend.append("circle").attr("cx", 104).attr("cy", 292.3).attr("r", 2).attr("fill", red);
mapLegend.append("circle").attr("cx", 104).attr("cy", 308.3).attr("r", 8).attr("fill", "#27ae60").attr("stroke", "#000").attr("stroke-width", 1.4);
mapLegend.append("path").attr("d", starPath()).attr("transform", "translate(104,322.5)")
    .attr("fill", "#1f77b4").attr("stroke", "#000").attr("stroke-width", 1.4);
[["Track", 296], ["Launch", 311.5], ["Last fix", 326.5]].forEach(function(d) {
    mapLegend.append("text").attr("x", 124).attr("y", d[1]).attr("font-size", legend_size).text(d[0]);
});

// ---------- info block ----------
var info = svg.append("g").attr("text-anchor", "middle");
var infoX = 1214.7;
info.append("text").attr("x", infoX).attr("y", 58.3).attr("font-size", 22.2).style("fill", titleBlue).text("Pico Balloon Archive");
info.append("text").attr("x", infoX).attr("y", 80).attr("font-size", 19.4).text("Callsign: DO3GU-18   (WSPR)");
info.append("text").attr("x", infoX).attr("y", 100).attr("font-size", 15.2).text("2024-08-18 22:51:50  to  2024-11-17 10:04:01  UTC");
info.selectAll(".line").data(infoLines).enter().append("text")
    .attr("x", infoX).attr("y", function(d, i) { return 123.2 + i * 23; })
    .attr("font-size", 15.3).text(function(d) { return d; });
info.append("text").attr("x", infoX).attr("y", 263.3).attr("font-size", 18).style("fill", titleBlue).text("Data quality score: 0.893");
info.append("text").attr("x", infoX + 3.5).attr("y", 282.5).attr("font-size", 12.5).style("fill", "#555")
    .text("precision=0.86   cadence=0.99   agreement=1.00   stability=1.00   coverage=0.68");

// ---------- wind speed ----------
var windPanel = {left: 83.3, right: 789, top: 420.3, bottom: 726.3};
var xWind = timeScale(windPanel);
var yWind = d3.scaleLinear().domain([0, 95.6]).range([windPanel.bottom, windPanel.top]);
makePanel(windPanel, xWind, yWind, tickDates, windTicks, d3.utcFormat("%y-%m-%d"), "Wind Speed vs. Time");
turnDateLabels(windPanel);

// error band knots: stripes stay narrow, links are thin where the picture has them thin
var bandKnots = [];
bandDays.forEach(function(d, i) {
    bandKnots.push([d - 0.15, bandLow[i], bandHigh[i]]);
    bandKnots.push([d + 0.15, bandLow[i], bandHigh[i]]);
    if (bandJoin[i] !== null && i < bandDays.length - 1) {
        bandKnots.push([d + 0.16, bandJoin[i] - 1.5, bandJoin[i] + 1.5]);
        bandKnots.push([bandDays[i + 1] - 0.16, bandJoin[i] - 1.5, bandJoin[i] + 1.5]);
    }
});
var bandArea = d3.area()
    .x(function(d) { return xWind(toDate(d[0])); })
    .y0(function(d) { return yWind(d[1]); })
    .y1(function(d) { return yWind(d[2]); });
windPanel.marks.append("path").attr("d", bandArea(bandKnots)).attr("fill", grey).attr("fill-opacity", 0.35);

windDays.forEach(function(day, i) {
    windPanel.marks.selectAll(null).data(windSpeeds[i]).enter().append("circle")
        .attr("cx", xWind(toDate(day))).attr("cy", function(v) { return yWind(v); })
        .attr("r", 2.2).attr("fill", navy);
});

var dailyLine = d3.line()
    .x(function(d, i) { return xWind(toDate(dailyDays[i])); })
    .y(function(d) { return yWind(d); });
windPanel.marks.append("path").attr("d", dailyLine(dailyMeans)).attr("fill", "none").attr("stroke", red).attr("stroke-width", 1.7);

yLabel(42, 574, windLabel);

var windLegend = svg.append("g");
windLegend.append("rect").attr("x", 621.7).attr("y", 425.3).attr("width", 162.5).attr("height", 49.7).attr("rx", 2)
    .attr("fill", "#fff").attr("fill-opacity", 0.8).attr("stroke", "#ccc").attr("stroke-width", 1);
windLegend.append("rect").attr("x", 625).attr("y", 430).attr("width", 24).attr("height", 9).attr("fill", grey).attr("fill-opacity", 0.35);
windLegend.append("circle").attr("cx", 637.3).attr("cy", 450).attr("r", 2).attr("fill", navy);
windLegend.append("line").attr("x1", 625).attr("x2", 649).attr("y1", 465).attr("y2", 465).attr("stroke", red).attr("stroke-width", 1.7);
[["\u00b11\u03c3 propagated error", 439], ["Wind speed", 454], ["Daily mean", 470]].forEach(function(d) {
    windLegend.append("text").attr("x", 657.7).attr("y", d[1]).attr("font-size", legend_size).text(d[0]);
});

// ---------- latitude ----------
var latPanel = {left: 862.3, right: 1567, top: 420.3, bottom: 726.3};
var xLat = timeScale(latPanel);
var yLat = d3.scaleLinear().domain([-90, 90]).range([latPanel.bottom, latPanel.top]);
makePanel(latPanel, xLat, yLat, tickDates, latTicks, d3.utcFormat("%y-%m-%d"), "Latitude vs. Time");
turnDateLabels(latPanel);

latPanel.marks.selectAll("circle").data(latValues).enter().append("circle")
    .attr("cx", function(d, i) { return xLat(toDate(latDays[i])); })
    .attr("cy", function(d) { return yLat(d); })
    .attr("r", 2.6).attr("fill", "#000");
yLabel(813, 573, function(t) { t.text("Latitude (deg)"); });

// ---------- altitude ----------
var altPanel = {left: 83.3, right: 789, top: 808.3, bottom: 1115.3};
var xAlt = timeScale(altPanel);
var yAlt = d3.scaleLinear().domain([13731, 15359]).range([altPanel.bottom, altPanel.top]);
makePanel(altPanel, xAlt, yAlt, tickDates, altTicks, d3.utcFormat("%y-%m-%d"), "Balloon Altitude vs. Time");
turnDateLabels(altPanel);

altPanel.marks.selectAll("circle").data(altValues).enter().append("circle")
    .attr("cx", function(d, i) { return xAlt(toDate(altDays[i])); })
    .attr("cy", function(d) { return yAlt(d); })
    .attr("r", 2.3).attr("fill", grey);
var altLine = d3.line()
    .x(function(d, i) { return xAlt(toDate(altMeanDays[i])); })
    .y(function(d) { return yAlt(d); });
altPanel.marks.append("path").attr("d", altLine(altMeans)).attr("fill", "none").attr("stroke", red).attr("stroke-width", 1.8);

yLabel(20, 963, function(t) { t.text("Altitude (m AMSL)"); });
svg.append("text").attr("x", 436).attr("y", 1178).attr("text-anchor", "middle").attr("font-size", label_size).text("UTC date");

// ---------- histogram ----------
var histPanel = {left: 862.3, right: 1567, top: 808.3, bottom: 1115.3};
var xHist = d3.scaleLinear().domain([-100, 100]).range([histPanel.left, histPanel.right]);
var yHist = d3.scaleLinear().domain([0, 301]).range([histPanel.bottom, histPanel.top]);
makePanel(histPanel, xHist, yHist, histXTicks, histYTicks, d3.format("d"), "U and V Wind Components");

function drawHist(values, color) {
    histPanel.marks.selectAll(null).data(values).enter().append("rect")
        .attr("x", function(d, i) { return xHist(histBins[i]); })
        .attr("width", xHist(5) - xHist(0))
        .attr("y", function(d) { return yHist(d); })
        .attr("height", function(d) { return yHist(0) - yHist(d); })
        .attr("fill", color).attr("fill-opacity", 0.65)
        .attr("stroke", "#000").attr("stroke-opacity", 0.65).attr("stroke-width", 1.1);
}
drawHist(histU, "#1f77b4");
drawHist(histV, "#ff7f0e");

yLabel(816, 961.5, function(t) { t.text("Frequency"); });
var histLabel = svg.append("text").attr("x", 1215).attr("y", 1160).attr("text-anchor", "middle").attr("font-size", label_size);
windLabel(histLabel);

var histLegend = svg.append("g");
histLegend.append("rect").attr("x", 1442.7).attr("y", 814).attr("width", 119).attr("height", 35).attr("rx", 2)
    .attr("fill", "#fff").attr("fill-opacity", 0.8).attr("stroke", "#ccc").attr("stroke-width", 1);
[["U (zonal)", 819.3, 827.7, "#1f77b4"], ["V (meridional)", 834.5, 842.7, "#ff7f0e"]].forEach(function(d) {
    histLegend.append("rect").attr("x", 1446).attr("y", d[1]).attr("width", 22.7).attr("height", 7.6)
        .attr("fill", d[3]).attr("fill-opacity", 0.65).attr("stroke", "#000").attr("stroke-opacity", 0.65).attr("stroke-width", 1.1);
    histLegend.append("text").attr("x", 1477.3).attr("y", d[2]).attr("font-size", 11.2).text(d[0]);
});
</script>
</body>
</html>
